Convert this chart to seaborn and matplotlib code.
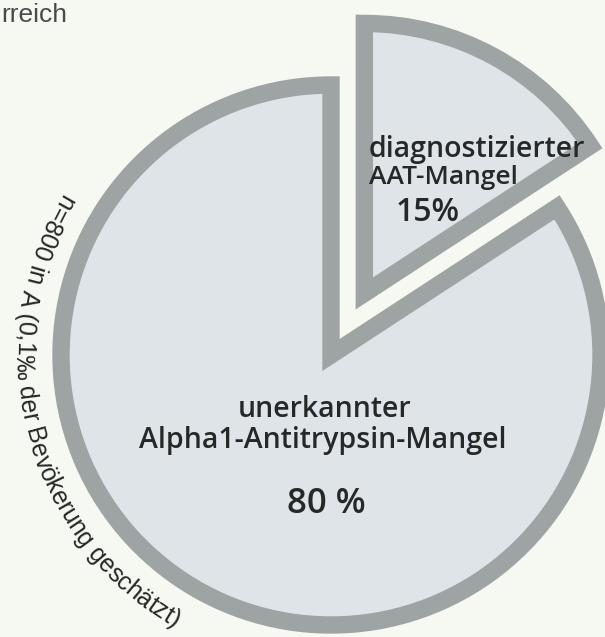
import numpy as np
import matplotlib.pyplot as plt
import seaborn as sns
from matplotlib.font_manager import FontProperties

W, H = 605, 637

# data
slice_names = ["diagnostizierter AAT-Mangel", "unerkannter Alpha1-Antitrypsin-Mangel"]
shares = [15, 80]
label_lines = [["diagnostizierter", "AAT-Mangel"], ["unerkannter", "Alpha1-Antitrypsin-Mangel"]]
pct_labels = ["15%", "80 %"]
note = "n=800 in A (0,1‰ der Bevökerung geschätzt)"
header = "rreich"

sns.set_theme(style="white")
plt.rcParams["font.family"] = ["Open Sans", "DejaVu Sans"]

bg = "#f6f9f2"
fill = "#dfe4e9"
edge = "#9ea3a4"
ink = "#262828"

fig = plt.figure(figsize=(W / 100, H / 100), dpi=100, facecolor=bg)
ax = fig.add_axes([0, 0, 1, 1])
ax.set_facecolor(bg)

center = (331, 282)
radius = 270
wedges, _ = ax.pie(
    shares, explode=[70, 0], startangle=90, counterclock=False,
    radius=radius, center=center, colors=sns.color_palette([fill, fill]),
    wedgeprops=dict(edgecolor=edge, linewidth=12.5, joinstyle="miter"),
)
ax.set_xlim(0, W)
ax.set_ylim(0, H)
ax.set_aspect("auto")
ax.axis("off")

lbl = dict(color=ink, va="baseline", fontweight="semibold")

# labels of the small slice
ax.text(369, 480, label_lines[0][0], fontsize=20.5, ha="left", **lbl)
ax.text(369, 453, label_lines[0][1], fontsize=19, ha="left", **lbl)
ax.text(396, 416, pct_labels[0], fontsize=23, ha="left", **lbl)

# labels of the big slice
ax.text(325, 220, label_lines[1][0], fontsize=20.5, ha="center", **lbl)
ax.text(323, 189, label_lines[1][1], fontsize=20.5, ha="center", **lbl)
ax.text(326, 124, pct_labels[1], fontsize=25, ha="center", **lbl)

ax.text(1, 615, header, fontsize=19, family="Liberation Sans", color="#4a4a4a",
        ha="left", va="baseline")

# curved note around the left edge of the pie
fig.canvas.draw()
renderer = fig.canvas.get_renderer()
fp = FontProperties(family="Liberation Sans", size=18)


def advance(ch):
    w2, _, _ = renderer.get_text_width_height_descent("x" + ch + "x", fp, ismath=False)
    w1, _, _ = renderer.get_text_width_height_descent("xx", fp, ismath=False)
    return w2 - w1


R = 315
phi = np.deg2rad(149)
for ch in note:
    a = advance(ch)
    mid = phi + a / 2 / R
    x = center[0] + R * np.cos(mid)
    y = center[1] + R * np.sin(mid)
    ax.text(x, y, ch, fontproperties=fp, rotation=np.rad2deg(mid) + 90,
            rotation_mode="anchor", ha="center", va="baseline", color=ink)
    phi += a / R

fig.savefig("out.png", dpi=100, facecolor=bg)
